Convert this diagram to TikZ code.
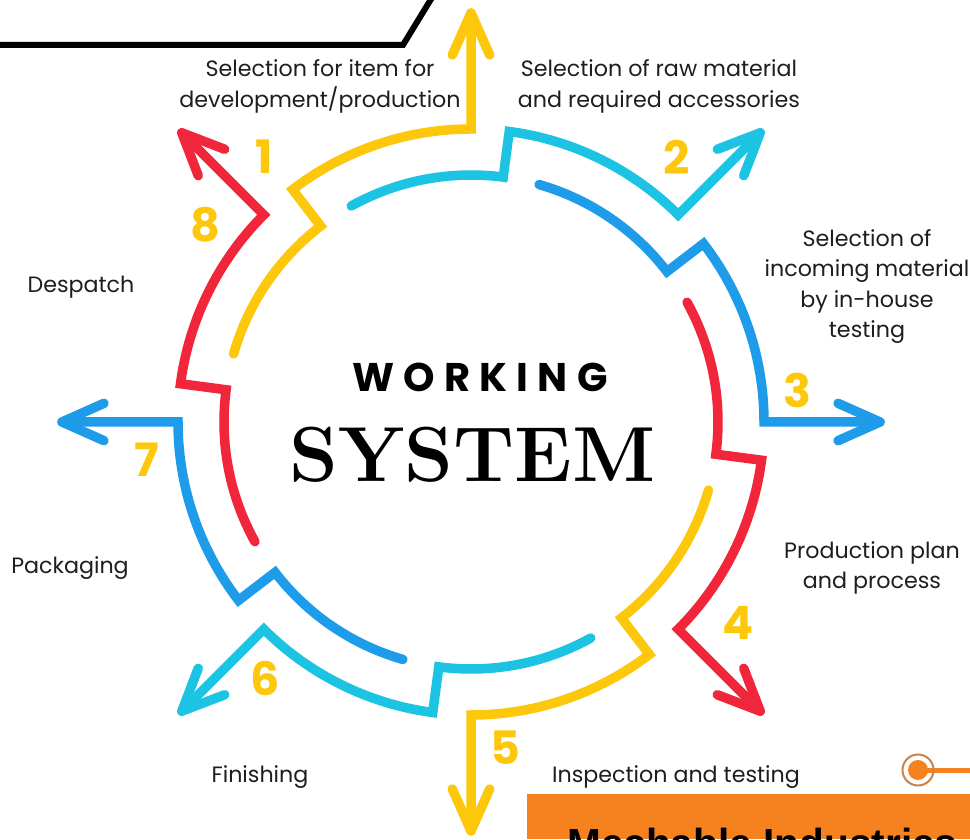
\documentclass[tikz,border=0pt]{standalone}
\usepackage{fontspec}
\usetikzlibrary{calc}
\setmainfont{Poppins}
\newfontfamily\workfont[LetterSpace=23]{Poppins}
\newfontfamily\sysfont{Latin Modern Roman}
\newfontfamily\brandfont{Liberation Sans}
\definecolor{cyel}{HTML}{FDC80C}
\definecolor{ccyan}{HTML}{1CC3E2}
\definecolor{cblue}{HTML}{1E9CE9}
\definecolor{cred}{HTML}{F1263A}
\definecolor{corange}{HTML}{F5821F}
\definecolor{cring}{HTML}{C98249}
\definecolor{ctext}{HTML}{1E1E1E}
\begin{document}
\begin{tikzpicture}[x=1pt,y=1pt,
  seg/.style={line width=9.5pt, line cap=round, line join=miter},
  headline/.style={line width=9.5pt, line cap=round, line join=round},
  lbl/.style={font=\fontsize{22.2}{30.5}\selectfont, text=ctext, align=center, inner sep=0pt},
  num/.style={font=\bfseries\fontsize{46}{46}\selectfont, text=cyel, inner sep=0pt}]
\clip (0,0) rectangle (970,839);
\fill[white] (0,0) rectangle (970,839);
\coordinate (C) at (471,417);
% spiral segments
\foreach \k/\col in {0/cyel,1/ccyan,2/cblue,3/cred,4/cyel,5/ccyan,6/cblue,7/cred}{
  \pgfmathsetmacro\t{90-45*\k}
  \pgfmathsetmacro\a{\t+74}
  \pgfmathsetmacro\b{\t+37.5}
  \draw[seg,\col] ($(C)+(\a:247)$) coordinate (s\k)
     arc[start angle=\a, end angle=\b, radius=247]
     -- ($(C)+(\b:293)$) coordinate (m\k)
     arc[start angle=\b, end angle=\t, radius=293]
     -- ($(C)+(\t:409)$) coordinate (tip\k);
  \draw[headline,\col] ($(tip\k)+(\t+180-24:46)$) coordinate (ha\k) -- (tip\k) -- ($(tip\k)+(\t+180+24:46)$) coordinate (hb\k);
}
% numbers
\node[num] (n1) at (264,682) {1};
\node[num] (n2) at (677,682) {2};
\node[num] (n3) at (797,449) {3};
\node[num] (n4) at (738,216) {4};
\node[num] (n5) at (505,91) {5};
\node[num] (n6) at (265,161) {6};
\node[num] (n7) at (147,379) {7};
\node[num] (n8) at (205,614) {8};
% labels
\node[lbl] (l1) at (320,752.5) {Selection for item for\\development/production};
\node[lbl] (l2) at (659,752.5) {Selection of raw material\\and required accessories};
\node[lbl] (l3) at (867,552.5) {Selection of\\incoming material\\by in-house\\testing};
\node[lbl] (l4) at (872,271) {Production plan\\and process};
\node[lbl] (l5) at (676,62) {Inspection and testing};
\node[lbl] (l6) at (260,62) {Finishing};
\node[lbl] (l7) at (70,271) {Packaging};
\node[lbl] (l8) at (81,552) {Despatch};
% title
\node[anchor=base, inner sep=0pt, font=\workfont\bfseries\fontsize{40}{40}\selectfont] (work) at (480,447) {WORKING};
\node[anchor=base, inner sep=0pt, font=\sysfont\bfseries\fontsize{78}{78}\selectfont] (sys) at (472.5,357) {SYSTEM};
% banner edge top-left
\draw[line width=6pt, line join=miter] (-10,794) -- (403,794) -- (436,848);
% orange footer
\fill[corange] (527,0) rectangle (975,45);
\node[anchor=base west, inner sep=0pt, font=\brandfont\bfseries\fontsize{40.6}{40.6}\selectfont] (brand) at (567,-18) {Mechable Industries};
% target icon
\draw[corange, line width=5pt] (926,69) -- (980,69);
\draw[cring, line width=2pt] (918,69) circle[radius=15.5];
\fill[corange] (918,69) circle[radius=10];
\end{tikzpicture}
\end{document}
